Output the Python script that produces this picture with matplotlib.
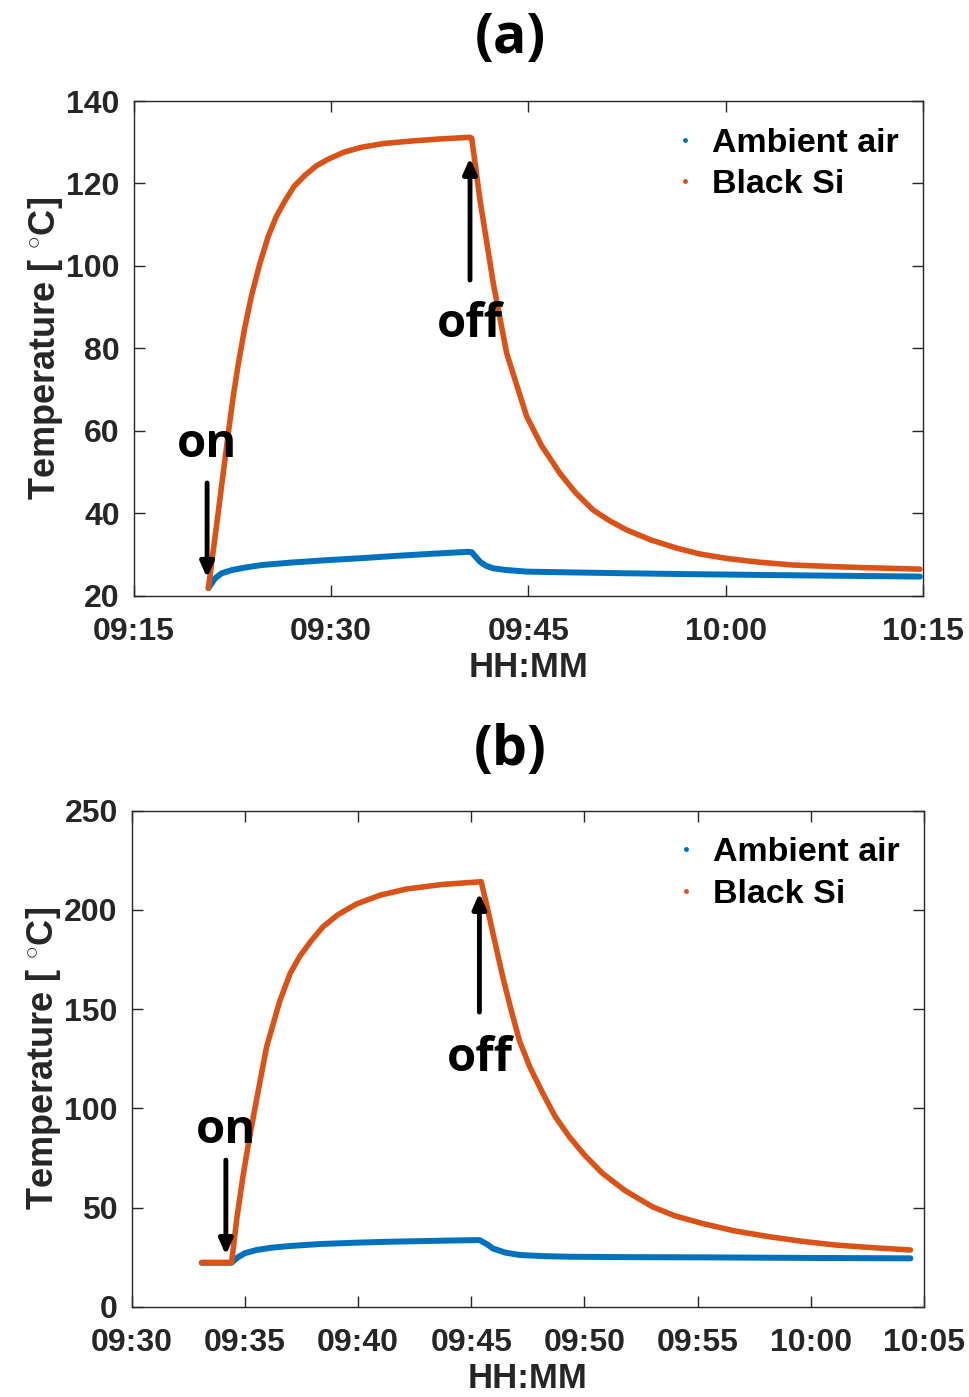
import matplotlib
matplotlib.use("Agg")
import matplotlib.pyplot as plt
import matplotlib.dates as mdates
from matplotlib.lines import Line2D
import pandas as pd

plt.rcParams['font.family'] = ['Liberation Sans', 'DejaVu Sans']
plt.rcParams['mathtext.fontset'] = 'custom'
plt.rcParams['mathtext.rm'] = 'Liberation Sans:bold'

BLUE = '#0072BD'
ORANGE = '#D95319'
GREY = '#262626'

# ---- data (minutes after 09:00) ----
# panel (a)
a_si_min = [20.69, 21.45, 22.2, 22.55, 22.96, 23.45, 23.98, 24.6, 25.24, 25.85, 26.51,
            27.2, 28.03, 28.9, 29.8, 31.0, 32.34, 34.0, 36.14, 38.3, 40.57,
            40.70, 41.33, 42.34, 43.36, 44.88, 46.0, 47.41, 48.6, 49.94, 51.2,
            52.48, 54.3, 56.28, 58.0, 60.08, 62.5, 65.14, 67.5, 70.2, 72.5, 74.76]
a_si_temp = [21.9, 40.6, 59.4, 67.8, 76.2, 85.0, 93.0, 100.6, 107.2, 112.0, 115.8,
             119.3, 122.0, 124.3, 125.9, 127.6, 128.8, 129.7, 130.3, 130.8, 131.2,
             131.0, 116.0, 95.8, 78.8, 63.5, 56.5, 49.7, 45.0, 40.8, 38.2,
             36.0, 33.6, 31.6, 30.2, 29.1, 28.2, 27.5, 27.2, 26.9, 26.7, 26.5]
a_air_min = [20.69, 21.2, 21.70, 22.5, 23.5, 24.74, 27.0, 29.8, 32.5, 34.87, 37.5,
             40.44, 40.70, 41.0, 41.33, 41.8, 42.34, 43.3, 44.88, 48.5, 52.48,
             57.0, 62.6, 68.5, 74.76]
a_air_temp = [21.9, 24.3, 25.5, 26.3, 26.9, 27.5, 28.1, 28.7, 29.2, 29.7, 30.2,
              30.7, 30.6, 29.5, 28.3, 27.3, 26.7, 26.3, 25.9, 25.7, 25.5,
              25.3, 25.1, 24.9, 24.7]

# panel (b)
b_si_min = [33.09, 34.41, 34.65, 34.92, 35.2, 35.51, 35.96, 36.54, 37.0, 37.42, 37.9,
            38.45, 39.1, 39.93, 41.0, 42.13, 43.7, 45.44,
            45.73, 46.0, 46.39, 46.75, 47.13, 47.6, 48.16, 48.7, 49.33, 50.0,
            50.8, 51.8, 53.0, 54.0, 55.2, 56.6, 58.16, 59.6, 61.1, 62.7, 64.4]
b_si_temp = [22.2, 22.2, 45.0, 66.0, 85.0, 104.0, 131.0, 154.0, 168.0, 176.5, 184.0,
             191.5, 197.5, 203.0, 207.5, 210.5, 212.8, 214.2,
             200.0, 186.0, 166.3, 150.0, 134.0, 120.5, 107.6, 96.0, 85.7, 76.5,
             67.2, 58.5, 50.4, 45.8, 42.0, 38.3, 35.3, 33.0, 31.1, 29.8, 28.6]
b_air_min = [33.09, 34.41, 34.7, 35.0, 35.51, 36.2, 36.98, 38.3, 39.93, 41.5, 42.86,
             44.2, 45.36, 45.7, 45.95, 46.5, 47.13, 48.2, 49.33, 52.0, 55.2, 60.0, 64.4]
b_air_temp = [22.2, 22.2, 25.0, 27.0, 28.6, 29.8, 30.6, 31.6, 32.3, 32.8, 33.1,
              33.4, 33.6, 31.5, 29.4, 27.3, 26.1, 25.5, 25.2, 25.0, 24.9, 24.6, 24.4]

base = pd.Timestamp('2000-01-01 09:00')


def to_time(minutes):
    return base + pd.to_timedelta(minutes, unit='min')


panels = [
    dict(label='(a)', rect=[0.1378, 0.5734, 0.8148, 0.3543],
         si=(a_si_min, a_si_temp), air=(a_air_min, a_air_temp),
         xlim=(15, 75), xstep=15, ylim=(20, 140), yticks=range(20, 141, 20),
         on=(20.59, 56.6, 47.4, 24.4), off=(40.57, 85.7, 96.6, 126.2), title_y=38),
    dict(label='(b)', rect=[0.1359, 0.0646, 0.8177, 0.3551],
         si=(b_si_min, b_si_temp), air=(b_air_min, b_air_temp),
         xlim=(30, 65), xstep=5, ylim=(0, 250), yticks=range(0, 251, 50),
         on=(34.16, 89.0, 73.9, 26.1), off=(45.36, 125.3, 148.5, 208.5), title_y=750),
]

fig = plt.figure(figsize=(9.69, 13.97), dpi=100)

for p in panels:
    ax = fig.add_axes(p['rect'])
    ax.plot(to_time(p['air'][0]), p['air'][1], color=BLUE, lw=4.3,
            solid_capstyle='round', solid_joinstyle='round', zorder=3)
    ax.plot(to_time(p['si'][0]), p['si'][1], color=ORANGE, lw=4.0,
            solid_capstyle='round', solid_joinstyle='round', zorder=4)

    ax.set_xlim(to_time(p['xlim'][0]), to_time(p['xlim'][1]))
    ax.set_ylim(*p['ylim'])
    ax.set_yticks(list(p['yticks']))
    ax.xaxis.set_major_locator(mdates.MinuteLocator(byminute=range(0, 60, p['xstep'])))
    ax.xaxis.set_major_formatter(mdates.DateFormatter('%H:%M'))

    ax.tick_params(direction='in', length=8, width=1, top=True, right=True,
                   colors=GREY, labelsize=23)
    ax.tick_params(axis='x', pad=15)
    ax.tick_params(axis='y', pad=10)
    for lab in ax.get_xticklabels() + ax.get_yticklabels():
        lab.set_fontweight('bold')
    for s in ax.spines.values():
        s.set_color(GREY)
        s.set_linewidth(1.0)

    ax.set_xlabel('HH:MM', fontsize=25, fontweight='bold', color=GREY, labelpad=3)
    ax.set_ylabel(r'Temperature [ $^{\circ}$C]', fontsize=26, fontweight='bold',
                  color=GREY, labelpad=1)

    handles = [Line2D([], [], ls='none', marker='.', color=BLUE, markersize=5),
               Line2D([], [], ls='none', marker='.', color=ORANGE, markersize=5)]
    ax.legend(handles, ['Ambient air', 'Black Si'], loc='upper right',
              bbox_to_anchor=(1.008, 1.008), frameon=False, handlelength=0.6,
              handletextpad=0.5, labelspacing=0.3,
              prop=dict(family='Liberation Sans', weight='bold', size=24.5))

    # on / off arrows
    x_on, y_on_txt, y_on_tail, y_on_tip = p['on']
    ax.annotate('', xy=(to_time(x_on), y_on_tip), xytext=(to_time(x_on), y_on_tail),
                arrowprops=dict(arrowstyle='-|>,head_width=0.4,head_length=0.9',
                                color='black', lw=3.5, shrinkA=0, shrinkB=0), zorder=6)
    ax.text(to_time(x_on), y_on_txt, 'on', ha='center', va='center', fontsize=34,
            fontweight='bold', family='Open Sans', color='black', zorder=6)
    x_off, y_off_txt, y_off_tail, y_off_tip = p['off']
    ax.annotate('', xy=(to_time(x_off), y_off_tip), xytext=(to_time(x_off), y_off_tail),
                arrowprops=dict(arrowstyle='-|>,head_width=0.4,head_length=0.9',
                                color='black', lw=3.5, shrinkA=0, shrinkB=0), zorder=6)
    ax.text(to_time(x_off), y_off_txt, 'off', ha='center', va='center', fontsize=34,
            fontweight='bold', family='Open Sans', color='black', zorder=6)

    fig.text(510 / 969, 1 - p['title_y'] / 1397, p['label'], ha='center', va='center',
             fontsize=40, fontweight='bold', family='Open Sans')

fig.savefig('out.png', dpi=100)
